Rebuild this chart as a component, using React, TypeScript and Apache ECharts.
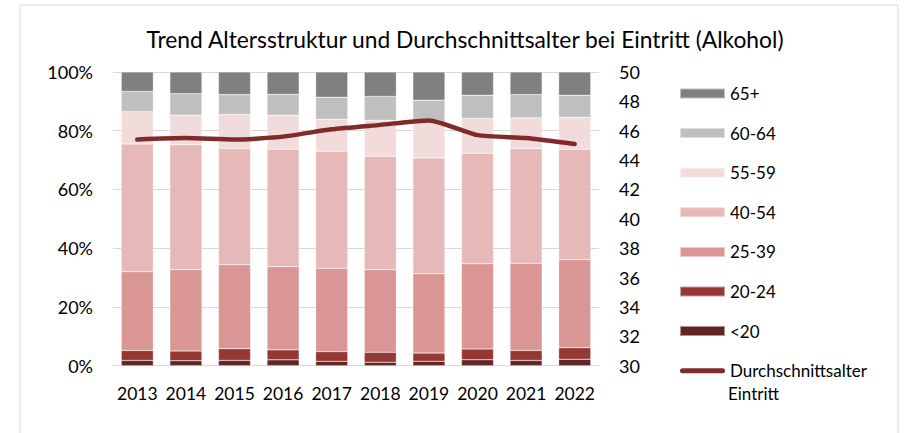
import React, { useEffect, useRef } from "react";
import * as echarts from "echarts";

const years = ["2013", "2014", "2015", "2016", "2017", "2018", "2019", "2020", "2021", "2022"];
const under20 = [1.8, 1.7, 1.8, 2.0, 1.5, 1.2, 1.5, 2.0, 1.8, 2.2];
const age20_24 = [3.4, 3.3, 4.0, 3.4, 3.3, 3.4, 2.8, 3.7, 3.4, 3.9];
const age25_39 = [26.8, 27.7, 28.6, 28.3, 28.4, 28.1, 27.0, 29.0, 29.7, 30.0];
const age40_54 = [43.5, 42.5, 39.6, 40.0, 39.8, 38.6, 39.4, 37.6, 39.0, 37.6];
const age55_59 = [11.0, 10.1, 11.5, 11.6, 10.9, 12.3, 12.3, 11.9, 10.5, 10.9];
const age60_64 = [6.9, 7.3, 6.8, 7.1, 7.5, 8.1, 7.4, 7.9, 7.9, 7.5];
const age65plus = [6.6, 7.4, 7.7, 7.6, 8.6, 8.3, 9.6, 7.9, 7.7, 7.9];
const avgAge = [45.4, 45.5, 45.4, 45.6, 46.1, 46.4, 46.7, 45.7, 45.5, 45.1];

const barSeries = [
  { name: "<20", data: under20, color: "#632523" },
  { name: "20-24", data: age20_24, color: "#953735" },
  { name: "25-39", data: age25_39, color: "#d99694" },
  { name: "40-54", data: age40_54, color: "#e6b9b8" },
  { name: "55-59", data: age55_59, color: "#f2dcdb" },
  { name: "60-64", data: age60_64, color: "#bfbfbf" },
  { name: "65+", data: age65plus, color: "#808080" },
];
const lineName = "Durchschnittsalter Eintritt";
const lineColor = "#802b2b";

const FONT = "Lato";

export default function App() {
  const ref = useRef<HTMLDivElement>(null);
  useEffect(() => {
    const chart = echarts.init(ref.current!, null, { renderer: "svg" });
    const legendData: any[] = [...barSeries]
      .reverse()
      .map((s) => ({ name: s.name, icon: "rect" }));
    legendData.push({
      name: lineName,
      icon:
        "path://M0,0 M45,10 M2.5,2.5 L42.5,2.5 A2.5,2.5 0 0 1 42.5,7.5 L2.5,7.5 A2.5,2.5 0 0 1 2.5,2.5 Z",
      itemStyle: { color: lineColor, borderWidth: 0 },
    });
    chart.setOption({
      animation: false,
      textStyle: { fontFamily: FONT, color: "#000" },
      title: {
        text: "Trend Altersstruktur und Durchschnittsalter bei Eintritt (Alkohol)",
        left: 460,
        textAlign: "center",
        top: 22,
        textStyle: { fontFamily: FONT, fontSize: 22.8, fontWeight: "normal", color: "#000" },
      },
      grid: { left: 113, right: 306, top: 72, bottom: 67.3, containLabel: false },
      legend: {
        orient: "vertical",
        left: 679,
        top: 85,
        padding: 0,
        itemWidth: 45,
        itemHeight: 10,
        itemGap: 22.6,
        data: legendData,
        formatter: (n: string) => (n === lineName ? "Durchschnittsalter" : n),
        textStyle: { fontFamily: FONT, fontSize: 17, lineHeight: 16, color: "#000" },
      },
      xAxis: {
        type: "category",
        data: years,
        axisTick: { show: false },
        axisLine: { lineStyle: { color: "#d9d9d9", width: 1 } },
        axisLabel: { fontFamily: FONT, fontSize: 17.5, color: "#000", margin: 19, interval: 0 },
      },
      yAxis: [
        {
          type: "value",
          min: 0,
          max: 100,
          interval: 20,
          axisLabel: { formatter: "{value}%", fontFamily: FONT, fontSize: 18, color: "#000", margin: 20 },
          splitLine: { lineStyle: { color: "#d9d9d9", width: 1 } },
          axisLine: { show: false },
          axisTick: { show: false },
        },
        {
          type: "value",
          min: 30,
          max: 50,
          interval: 2,
          position: "right",
          axisLabel: { fontFamily: FONT, fontSize: 18, color: "#000", margin: 20 },
          splitLine: { show: false },
          axisLine: { show: false },
          axisTick: { show: false },
        },
      ],
      series: [
        ...barSeries.map((s) => ({
          name: s.name,
          type: "bar",
          stack: "total",
          data: s.data,
          barCategoryGap: "34%",
          itemStyle: { color: s.color, borderColor: "rgba(255,255,255,0.5)", borderWidth: 0.5 },
        })),
        {
          name: lineName,
          type: "line",
          yAxisIndex: 1,
          data: avgAge,
          symbol: "none",
          smooth: 0.2,
          lineStyle: { color: lineColor, width: 4.5, cap: "round" },
          itemStyle: { color: lineColor },
          z: 10,
        },
      ],
      graphic: [
        {
          type: "rect",
          shape: { x: 20, y: 5, width: 878, height: 440 },
          style: { fill: "none", stroke: "#d9d9d9", lineWidth: 1 },
          silent: true,
        },
        {
          type: "text",
          left: 728,
          top: 385,
          style: { text: "Eintritt", font: `17px ${FONT}`, fill: "#000" },
        },
      ],
    });
    return () => chart.dispose();
  }, []);
  return (
    <div
      ref={ref}
      style={{ position: "fixed", left: 0, top: 0, width: 905, height: 433, background: "#fff" }}
    />
  );
}
